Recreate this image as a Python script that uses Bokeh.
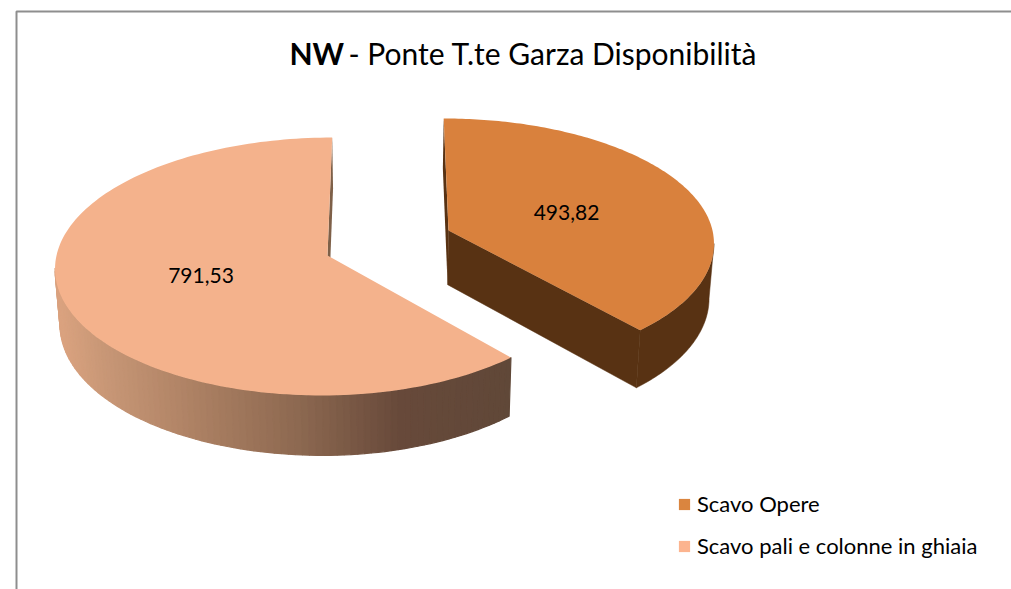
import math
from bokeh.core.properties import value
from bokeh.embed import file_html
from bokeh.models import ColumnDataSource, Legend, LegendItem, Range1d
from bokeh.plotting import figure
from bokeh.resources import INLINE

# ---- data -----------------------------------------------------------------
categories = ["Scavo Opere", "Scavo pali e colonne in ghiaia"]
values = [493.82, 791.53]
title_bold = "NW"
title_rest = "- Ponte T.te Garza Disponibilità"

# ---- styling --------------------------------------------------------------
FONT = "Lato"
top_colors = ["#d9813d", "#f4b28c"]
side_flat = "#583213"
legend_colors = ["#da853f", "#fcb48f"]
apex_px = [(448.0, 230.0), (327.0, 255.0)]
radius_left = 271.0
radius_right = 264.0
k_up = [121.6, 128.0]
k_down = [125.0, 128.0]
persp = 0.0853
vanish_x = 387.0
ramp = [(60, (218, 162, 127)), (100, (201, 152, 119)), (200, (171, 127, 98)),
        (300, (140, 104, 80)), (400, (103, 73, 58)), (512, (96, 72, 56))]


def project(idx, deg):
    apex = apex_px[idx]
    u, v = math.cos(math.radians(deg)), math.sin(math.radians(deg))
    w = 1 + persp * v
    rx = radius_right if u > 0 else radius_left
    ky = k_up[idx] if v > 0 else k_down[idx]
    x = vanish_x + (apex[0] - vanish_x + rx * u) / w
    y = apex[1] - ky * v / w
    return x, y


def lower(pt):
    x, y = pt
    return vanish_x + (x - vanish_x) * 0.985, y + 55 + (y - 255) * 0.035


def ramp_color(x):
    for (x0, c0), (x1, c1) in zip(ramp, ramp[1:]):
        if x <= x1:
            t = max(0.0, (x - x0) / (x1 - x0))
            return "#%02x%02x%02x" % tuple(round(a + (b - a) * t) for a, b in zip(c0, c1))
    return "#%02x%02x%02x" % ramp[-1][1]


total = sum(values)
spans = [v / total * 360 for v in values]
n = 160
angle_lists = [[90 - spans[0] * i / n for i in range(n + 1)],
               [90 + spans[1] * i / n for i in range(n + 1)]]

p = figure(width=1011, height=589, output_backend="svg", toolbar_location=None,
           x_range=Range1d(0, 1011), y_range=Range1d(589, 0), min_border=0)
p.axis.visible = False
p.grid.visible = False
p.outline_line_color = None
p.background_fill_color = "white"

# chart frame
p.line([16, 16, 1011], [589, 11, 11], line_color="#8e8e8e", line_width=2)

# side walls: only the part of each rim that faces the viewer
for idx in (1, 0):
    apex = apex_px[idx]
    rim = [project(idx, a) for a in angle_lists[idx]]
    low = [lower(q) for q in rim]
    low_apex = lower(apex)
    sliver = [apex, rim[0], low[0], low_apex]
    p.patch([q[0] for q in sliver], [q[1] for q in sliver],
            fill_color=side_flat if idx == 0 else "#7e6048", line_color=None)
    if idx == 0:
        first = max(range(n + 1), key=lambda i: rim[i][0])
        face = [apex, rim[-1], low[-1], low_apex]
        p.patch([q[0] for q in face], [q[1] for q in face], fill_color=side_flat,
                line_color=side_flat, line_width=0.5)
        wall = rim[first:] + low[first:][::-1]
        p.patch([q[0] for q in wall], [q[1] for q in wall], fill_color=side_flat,
                line_color=side_flat, line_width=0.5)
    else:
        first = min(range(n + 1), key=lambda i: rim[i][0])
        xs, ys, cols = [], [], []
        for i in range(first, n):
            quad = [rim[i], rim[i + 1], low[i + 1], low[i]]
            xs.append([q[0] for q in quad])
            ys.append([q[1] for q in quad])
            cols.append(ramp_color((rim[i][0] + rim[i + 1][0]) / 2))
        src = ColumnDataSource(dict(xs=xs, ys=ys, c=cols))
        p.patches("xs", "ys", source=src, fill_color="c", line_color="c", line_width=1.2)

# top faces
for idx in range(2):
    rim = [project(idx, a) for a in angle_lists[idx]]
    pts = [apex_px[idx]] + rim
    p.patch([q[0] for q in pts], [q[1] for q in pts], fill_color=top_colors[idx], line_color=None)

# data labels
labels = [f"{v:.2f}".replace(".", ",") for v in values]
p.text([566, 200.5], [212, 275], text=labels, text_font=value(FONT), text_font_size="21px",
       text_align="center", text_baseline="middle", text_color="#000000")

# title
p.text([289], [52], text=[title_bold], text_font=value(FONT), text_font_size="30px",
       text_font_style="bold", text_align="left", text_baseline="middle", text_color="#000000")
p.text([348], [52], text=[title_rest], text_font=value(FONT), text_font_size="30px",
       text_align="left", text_baseline="middle", text_color="#000000")

# legend
swatches = [p.quad(left=[-50], right=[-40], bottom=[-50], top=[-40], fill_color=c, line_color=None)
            for c in legend_colors]
legend = Legend(items=[LegendItem(label=categories[i], renderers=[swatches[i]]) for i in range(2)],
                location=(677, 30), orientation="vertical", background_fill_alpha=0,
                border_line_color=None, label_text_font=FONT, label_text_font_size="22px",
                label_text_color="#000000", glyph_width=14, glyph_height=14, spacing=15,
                padding=0, margin=0, label_standoff=6, label_height=26)
p.add_layout(legend, "center")

open("out.html", "w").write(file_html(p, INLINE))
